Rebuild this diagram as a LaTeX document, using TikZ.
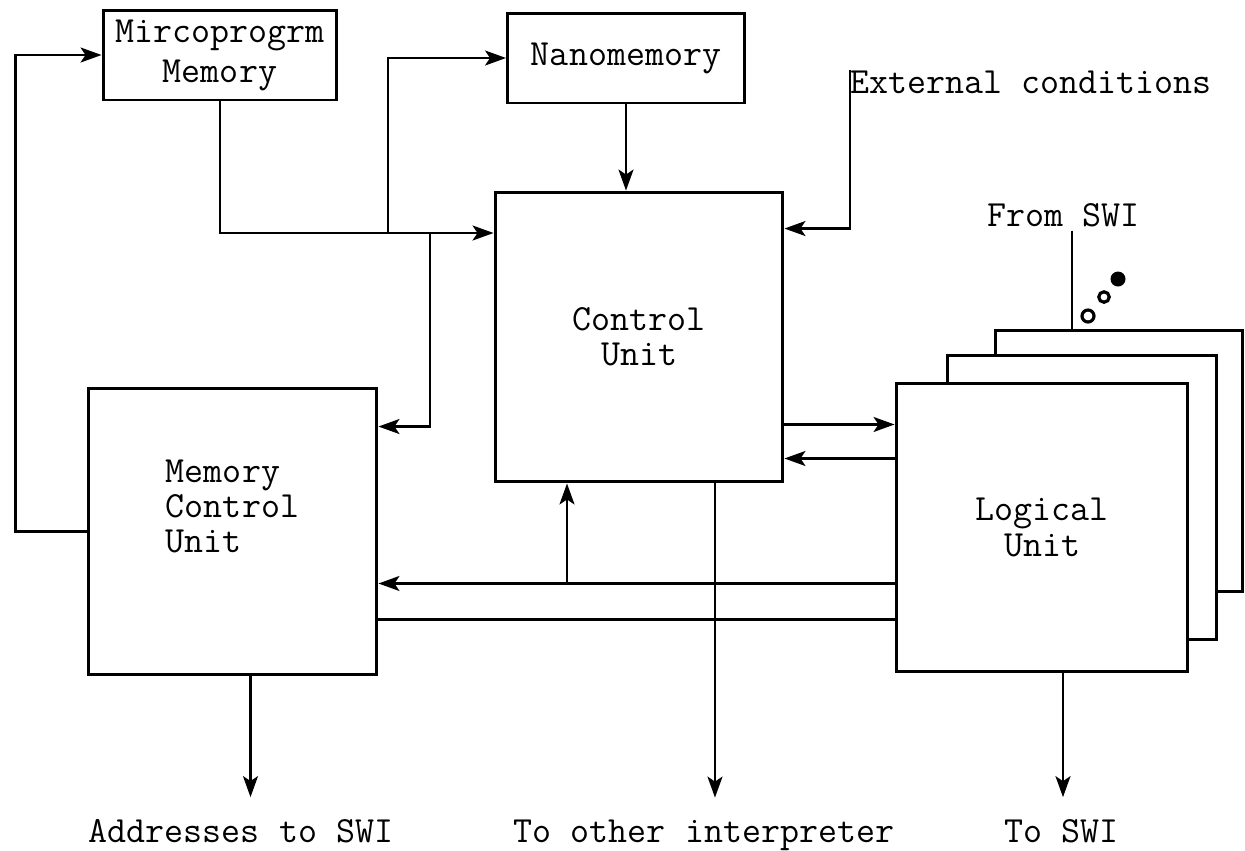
\documentclass[tikz,border=0pt]{standalone}
\usepackage{tikz}
\usetikzlibrary{arrows.meta, positioning}
\newcommand{\unitfont}{\fontsize{21}{20}\selectfont\ttfamily}

\begin{document}
\begin{tikzpicture}[
    x=0.02cm, y=-0.02cm,
    every node/.style={font=\unitfont},
    block/.style={rectangle, draw, line width=1.7pt, fill=white,
                  align=center, inner sep=0pt},
    caption/.style={inner sep=2pt},
    arrow/.style={-{Stealth[length=0.42cm, width=0.3cm, inset=0.1cm]},
                  line width=1.3pt},
    wire/.style={line width=1.3pt},
    dot/.style={circle, inner sep=0pt, line width=1.8pt}
]
\useasboundingbox (0,0) rectangle (1245,850);

% Memories
\node[block, minimum width=4.68cm, minimum height=1.8cm] (mpm) at (220,55) {Mircoprogrm\\[0.1cm]Memory};
\node[block, minimum width=4.74cm, minimum height=1.8cm] (nano) at (626,58) {Nanomemory};

% Control units
\node[block, minimum width=5.76cm, minimum height=5.8cm] (cu) at (639,337) {Control\\Unit};
\node[block, minimum width=5.78cm, minimum height=5.74cm] (mcu) at (232.5,531.5) {};
\node[align=left] (mcu-label) at ([yshift=0.5cm]mcu.center) {Memory\\Control\\Unit};

% Logical unit stack
\node[block, minimum width=4.96cm, minimum height=5.24cm] (luc) at (1119,461) {};
\node[block, minimum width=5.4cm, minimum height=5.7cm] (lub) at (1082,497.5) {};
\node[block, minimum width=5.84cm, minimum height=5.78cm] (lu) at (1042,527.5) {Logical\\Unit};
\node[dot, draw, minimum size=0.24cm] (dot-a) at (1088,316) {};
\node[dot, draw, minimum size=0.21cm] (dot-b) at (1104,297) {};
\node[dot, fill, minimum size=0.3cm] (dot-c) at (1118,279) {};

% Labels
\node[anchor=base west, inner sep=0pt] (ext) at (850,93) {External conditions};
\node[caption] (from-swi) at (1063,215) {From SWI};
\node[caption, anchor=base] (to-addr) at (241,842) {Addresses to SWI};
\node[caption, anchor=base] (to-interp) at (704,842) {To other interpreter};
\node[caption, anchor=base] (to-swi) at (1061,842) {To SWI};

% Microprogram bus
\coordinate (tap-nano) at (388,233);
\coordinate (tap-mcu) at (430,233);
\coordinate (mcu-in) at ([yshift=-0.8cm]mcu.north east);
\draw[arrow] (mpm.south) |- (tap-nano -| cu.west);
\draw[arrow] (tap-nano) |- (nano.west);
\draw[arrow] (tap-mcu) |- (mcu-in);
\draw[arrow] (nano.south) -- (nano.south |- cu.north);
\draw[arrow] (mcu.west) -- ++(-1.42cm,0) |- (mpm.west);

% External conditions
\coordinate (ext-in) at ([yshift=-0.76cm]cu.north east);
\draw[arrow] (ext.north west) |- (ext-in);

% Control unit <-> logical unit
\coordinate (cu-out) at ([yshift=1.18cm]cu.south east);
\coordinate (lu-back) at ([yshift=0.5cm]cu.south east);
\draw[arrow] (cu-out) -- (cu-out -| lu.west);
\draw[arrow] (lu-back -| lu.west) -- (lu-back);

% Logical unit back to memory control
\coordinate (ret) at ([yshift=1.8cm]lu.south west);
\coordinate (tap-cu) at (567,582);
\coordinate (lnk) at ([yshift=1.08cm]lu.south west);
\draw[arrow] (ret) -- (ret -| mcu.east);
\draw[arrow] (tap-cu) -- (tap-cu |- cu.south);
\draw[wire] (lnk) -- (lnk -| mcu.east);

% From SWI
\coordinate (swi-in) at ([xshift=0.18cm]from-swi.south);
\draw[wire] (swi-in) -- (swi-in |- luc.north);

% Outputs
\coordinate (mcu-out) at ([xshift=0.36cm]mcu.south);
\coordinate (cu-down) at ([xshift=1.52cm]cu.south);
\coordinate (lu-out) at ([xshift=0.42cm]lu.south);
\draw[arrow, shorten >=0.36cm] (mcu-out) -- (mcu-out |- to-addr.north);
\draw[arrow, shorten >=0.36cm] (cu-down) -- (cu-down |- to-interp.north);
\draw[arrow, shorten >=0.36cm] (lu-out) -- (lu-out |- to-swi.north);

\end{tikzpicture}
\end{document}
